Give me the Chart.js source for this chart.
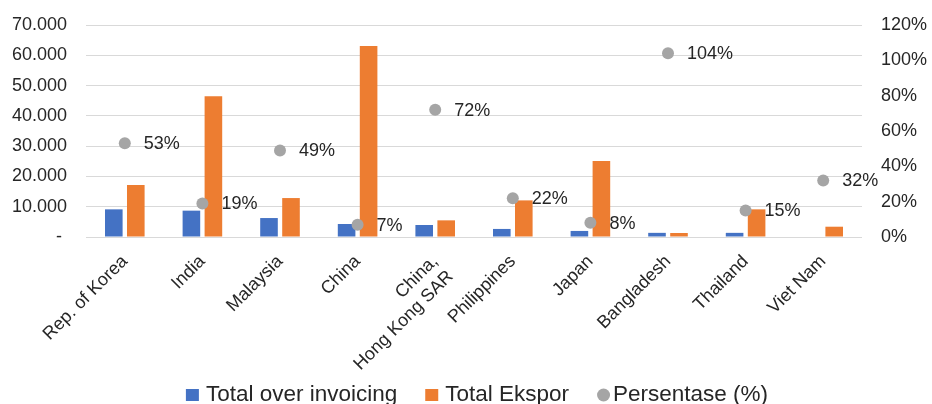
<!DOCTYPE html>
<html>
<head>
<meta charset="utf-8">
<script src="https://cdn.jsdelivr.net/npm/chart.js@4/dist/chart.umd.min.js"></script>
<style>
  html, body { margin: 0; padding: 0; background: #ffffff; }
  #wrap { width: 932px; height: 404px; position: relative; }
</style>
</head>
<body>
<div id="wrap"><canvas id="chart"></canvas></div>
<script>
// Countries on the x axis
const categories = [
  'Rep. of Korea', 'India', 'Malaysia', 'China', ['China,', 'Hong Kong SAR'],
  'Philippines', 'Japan', 'Bangladesh', 'Thailand', 'Viet Nam'
];
// Total over invoicing (left axis)
const overInvoicing = [9130, 8700, 6260, 4290, 3960, 2660, 2000, 1370, 1370, null];
// Total Ekspor (left axis)
const totalEkspor = [17150, 46500, 12860, 63070, 5500, 12090, 25060, 1320, 9130, 3400];
// Persentase (%) (right axis)
const persentase = [53, 19, 49, 7, 72, 22, 8, 104, 15, 32];

// Left axis ticks: 0 .. 70.000 in steps of 10.000
const leftMax = 70000;
const leftStep = 10000;
// Right axis ticks: 0% .. 120% in steps of 20%
const rightMax = 120;
const rightStep = 20;

const seriesNames = ['Total over invoicing', 'Total Ekspor', 'Persentase (%)'];
const colors = { blue: '#4472C4', orange: '#ED7D31', gray: '#A5A5A5' };

const FONT = "'Liberation Sans', Arial, Helvetica, sans-serif";
const TEXT = '#262626';

function formatThousands(v) {
  if (v === 0) return '- ';
  return String(v).replace(/\B(?=(\d{3})+(?!\d))/g, '.');
}

// Percentage labels next to each point
const pointLabels = {
  id: 'pointLabels',
  afterDatasetsDraw(chart) {
    const meta = chart.getDatasetMeta(2);
    const ctx = chart.ctx;
    ctx.save();
    ctx.font = '18px ' + FONT;
    ctx.fillStyle = TEXT;
    ctx.textAlign = 'left';
    ctx.textBaseline = 'middle';
    meta.data.forEach((pt, i) => {
      const v = persentase[i];
      if (v == null) return;
      ctx.fillText(v + '%', pt.x + 19, pt.y + 1);
    });
    ctx.restore();
  }
};

// Legend row under the chart: square for bars, dot for the percentage series
const bottomLegend = {
  id: 'bottomLegend',
  afterDraw(chart) {
    const ctx = chart.ctx;
    const area = chart.chartArea;
    const items = [
      { text: seriesNames[0], color: colors.blue, shape: 'rect', gap: 7 },
      { text: seriesNames[1], color: colors.orange, shape: 'rect', gap: 7 },
      { text: seriesNames[2], color: colors.gray, shape: 'circle', gap: 3 }
    ];
    const boxW = 13, boxH = 12, itemGap = 28;
    const cy = chart.height - 9;
    ctx.save();
    ctx.font = '22.5px ' + FONT;
    ctx.textBaseline = 'middle';
    ctx.textAlign = 'left';
    const widths = items.map(it => boxW + it.gap + ctx.measureText(it.text).width);
    const total = widths.reduce((a, b) => a + b, 0) + itemGap * (items.length - 1);
    let x = (area.left + area.right) / 2 + 3 - total / 2;
    items.forEach((it, i) => {
      ctx.fillStyle = it.color;
      if (it.shape === 'rect') {
        ctx.fillRect(x, cy - boxH / 2, boxW, boxH);
      } else {
        ctx.beginPath();
        ctx.arc(x + boxW / 2, cy, 6.5, 0, Math.PI * 2);
        ctx.fill();
      }
      ctx.fillStyle = TEXT;
      ctx.fillText(it.text, x + boxW + it.gap, cy);
      x += widths[i] + itemGap;
    });
    ctx.restore();
  }
};

// Fixed axis widths; vertical label overhang is left to the layout padding
function fitSide(width) {
  return (scale) => {
    scale.width = width;
    scale.paddingTop = 0;
    scale.paddingBottom = 0;
  };
}

new Chart(document.getElementById('chart'), {
  data: {
    labels: categories,
    datasets: [
      {
        type: 'bar',
        label: seriesNames[0],
        data: overInvoicing,
        backgroundColor: colors.blue,
        yAxisID: 'y',
        categoryPercentage: 0.567,
        barPercentage: 0.8,
        order: 1
      },
      {
        type: 'bar',
        label: seriesNames[1],
        data: totalEkspor,
        backgroundColor: colors.orange,
        yAxisID: 'y',
        categoryPercentage: 0.567,
        barPercentage: 0.8,
        order: 1
      },
      {
        type: 'line',
        label: seriesNames[2],
        data: persentase,
        showLine: false,
        pointRadius: 6,
        pointHoverRadius: 6,
        pointBackgroundColor: colors.gray,
        pointBorderColor: colors.gray,
        pointBorderWidth: 0,
        backgroundColor: colors.gray,
        borderColor: colors.gray,
        yAxisID: 'y1',
        order: 0
      }
    ]
  },
  options: {
    responsive: true,
    maintainAspectRatio: false,
    animation: false,
    devicePixelRatio: 1,
    layout: { padding: { top: 25, left: 0, right: 0, bottom: 0 } },
    plugins: {
      tooltip: { enabled: false },
      legend: { display: false }
    },
    scales: {
      x: {
        grid: { display: false },
        border: { display: false },
        ticks: {
          color: TEXT,
          font: { family: FONT, size: 18 },
          minRotation: 45,
          maxRotation: 45,
          autoSkip: false,
          padding: 6
        },
        afterFit(scale) { scale.height = 167; }
      },
      y: {
        position: 'left',
        min: 0,
        max: leftMax,
        border: { display: false },
        grid: { color: '#D9D9D9', lineWidth: 1, drawTicks: false },
        ticks: {
          stepSize: leftStep,
          color: TEXT,
          font: { family: FONT, size: 18 },
          padding: 19,
          callback: (v) => formatThousands(v)
        },
        afterFit: fitSide(86)
      },
      y1: {
        position: 'right',
        min: 0,
        max: rightMax,
        border: { display: false },
        grid: { display: false, drawTicks: false },
        ticks: {
          stepSize: rightStep,
          color: TEXT,
          font: { family: FONT, size: 18 },
          padding: 19,
          callback: (v) => v + '%'
        },
        afterFit: fitSide(70)
      }
    }
  },
  plugins: [pointLabels, bottomLegend]
});
</script>
</body>
</html>
